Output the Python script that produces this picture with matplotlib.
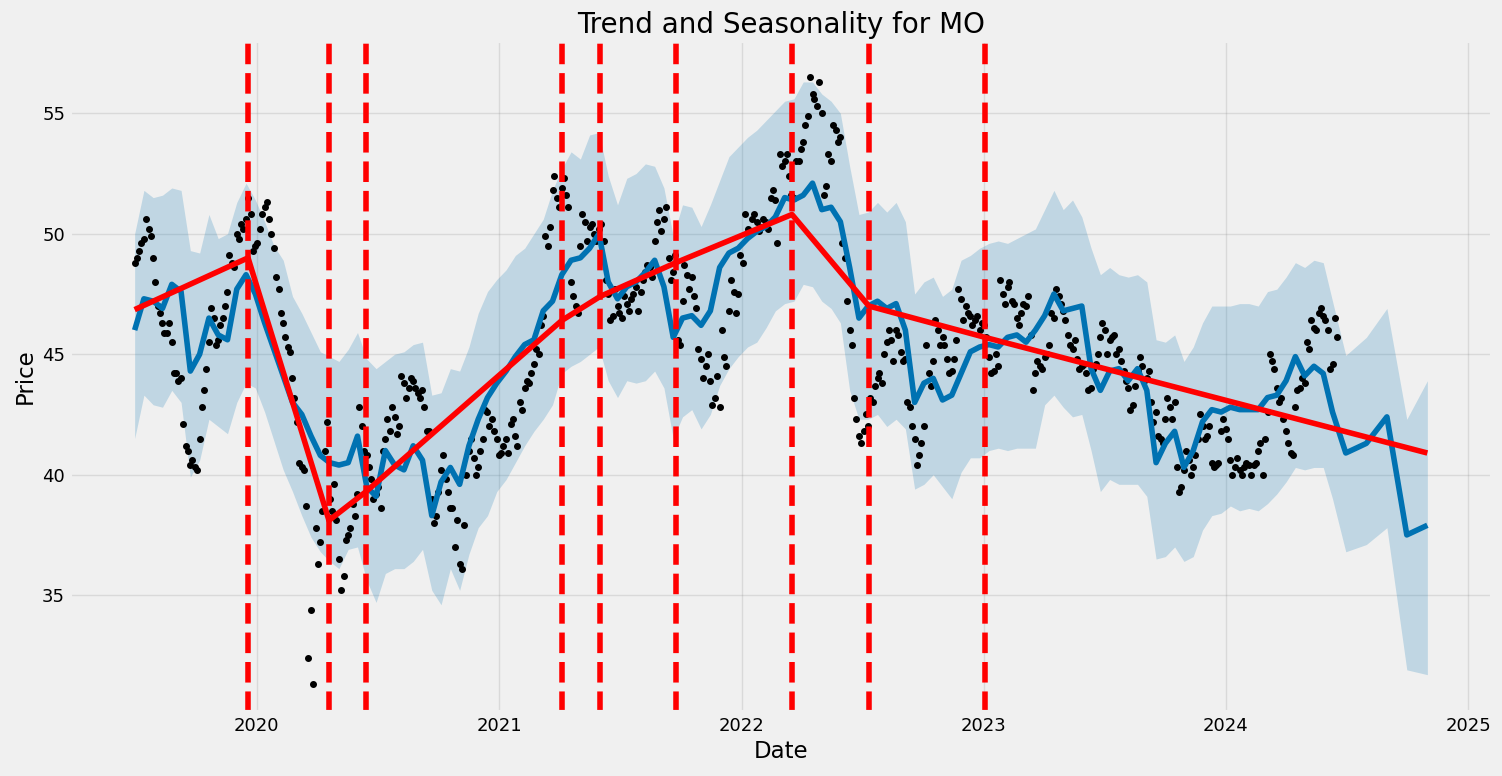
import matplotlib
matplotlib.use("Agg")
import matplotlib.pyplot as plt
import pandas as pd

# observed closing prices, one reading per week (Mondays)
price_start = "2019-07-01"
price = [
    48.8, 49.3, 49.8, 50.2, 49.0, 47.0, 46.3, 45.9, 45.5, 44.2, 44.0, 41.2, 40.4, 40.3, 41.5,
    43.5, 45.5, 46.5, 45.6, 46.5, 47.6, 48.8, 50.0, 50.4, 50.6, 50.8, 49.5, 50.2, 51.1, 50.6,
    49.4, 47.7, 46.3, 45.3, 44.0, 42.2, 40.3, 38.7, 34.4, 37.8, 37.2, 41.0, 39.0,
    39.6, 36.5, 35.8, 37.5, 38.8, 39.2, 42.0, 40.8, 39.8, 39.2, 38.6, 41.5, 41.8, 42.4, 42.0,
    43.8, 43.6, 43.9, 43.4, 43.5, 41.8, 39.0, 38.3, 40.2, 39.8, 38.6, 37.0, 36.3, 37.9, 41.0,
    40.7, 40.3, 41.5, 42.6, 42.3, 41.5, 40.9, 41.5, 42.1, 41.6, 43.0, 43.6, 43.8, 44.6, 45.0,
    46.6, 49.5, 51.8, 51.5, 51.9, 51.6,
    48.0, 47.0, 49.5, 50.5, 50.3, 50.0, 50.2, 49.7, 47.5, 46.6, 47.0, 46.5, 47.1, 47.3, 47.8,
    47.6, 48.4, 48.6, 49.7, 51.0, 50.6, 49.0, 48.4, 45.6, 47.2, 48.3, 48.2, 46.9, 44.8, 44.5,
    43.9, 43.2, 42.8, 44.9, 46.8, 47.6, 47.5, 48.8, 50.2, 50.6, 50.5, 50.3, 50.5, 51.5, 51.4,
    53.3, 53.0, 52.4, 51.5,
    53.0, 53.8, 54.9, 55.8, 55.3, 55.0, 52.0, 53.0, 54.3, 54.0, 49.0, 46.0, 43.2, 41.6, 41.8,
    42.0, 43.0, 44.0, 43.8, 45.5, 45.6, 46.0, 45.1, 44.8, 42.8, 41.5, 40.8, 42.0, 44.2, 44.7,
    46.0, 45.7, 44.8, 44.3, 45.6, 47.3, 47.0, 46.6, 46.4, 46.0, 46.2, 44.9, 44.3, 44.5, 47.5,
    47.8, 47.2, 46.5, 46.7,
    47.0, 45.8, 44.2, 44.5, 44.9, 45.4, 46.5, 47.4, 46.8, 45.8, 45.2, 44.8, 44.5, 44.2, 43.6,
    44.6, 45.7, 46.0, 45.6, 45.8, 45.2, 44.3, 43.6, 42.9, 44.3, 44.5, 44.0, 43.0, 42.6, 41.5,
    42.3, 42.8, 43.0, 39.3, 40.2, 40.6, 40.3, 41.5, 42.0, 41.6, 40.5, 40.4, 41.8, 41.9, 40.6,
    40.3, 40.2, 40.3, 40.4,
    40.4, 41.0, 40.0, 42.6, 44.7, 43.6, 43.2, 41.8, 40.9, 42.8, 43.6, 43.8, 45.2, 46.1, 46.7,
    46.6, 46.0, 44.6, 45.7,
]

# a second reading per week (Thursdays)
price_mid_start = "2019-07-04"
price_mid = [
    49.0, 49.6, 50.6, 49.9, 48.0, 46.7, 45.9, 46.3, 44.2, 43.9, 42.1, 41.0, 40.6, 40.2, 42.8,
    44.4, 46.9, 45.4, 46.2, 47.0, 49.1, 48.6, 49.8, 50.2, 51.5, 49.3, 49.6, 50.8, 51.3, 50.0,
    48.2, 46.7, 45.7, 45.1, 43.2, 40.5, 40.2, 32.4, 31.3, 36.3, 38.5, 42.2, 38.5,
    38.1, 35.2, 37.3, 37.8, 38.3, 42.8, 41.0, 40.3, 39.0, 39.5, 41.0, 42.3, 42.8, 41.7, 44.1,
    43.2, 44.0, 43.6, 43.2, 42.8, 41.8, 38.0, 39.3, 40.8, 39.3, 38.6, 38.1, 36.1, 40.0, 41.5,
    40.0, 41.0, 42.7, 42.0, 41.8, 40.8, 41.2, 40.9, 42.3, 41.2, 42.7, 43.9, 44.2, 45.2, 46.2,
    49.9, 50.3, 52.4, 51.1, 52.3, 51.1,
    47.4, 46.7, 50.8, 49.7, 50.4, 49.7, 50.4, 48.1, 46.4, 47.7, 46.7, 47.4, 46.8, 47.5, 46.8,
    48.1, 48.7, 48.2, 50.5, 50.1, 51.1, 48.1, 49.1, 45.4, 48.7, 47.7, 47.4, 45.2, 44.0, 45.0,
    42.9, 44.1, 46.0, 44.5, 48.1, 46.7, 49.1, 50.8, 50.1, 50.8, 50.1, 50.6, 50.2, 51.8, 49.6,
    52.8, 53.3, 51.6, 53.0,
    53.5, 54.5, 56.5, 55.6, 56.3, 51.6, 53.3, 54.5, 53.8, 49.6, 47.2, 45.4, 42.3, 41.3, 42.5,
    43.2, 43.7, 44.2, 45.0, 46.0, 44.7, 45.8, 44.7, 43.0, 42.0, 40.4, 41.3, 45.4, 43.7, 46.4,
    45.4, 45.4, 44.2, 44.8, 47.7, 46.4, 46.7, 46.2, 46.6, 46.3, 45.7, 44.2, 45.0, 48.1, 47.1,
    48.0, 47.1, 46.2, 47.1,
    47.4, 43.5, 44.7, 44.4, 45.0, 46.7, 47.7, 47.1, 46.4, 45.4, 45.6, 44.4, 44.6, 43.5, 44.4,
    45.0, 46.3, 45.0, 45.7, 45.0, 44.7, 43.9, 42.7, 43.7, 44.9, 43.9, 44.3, 42.2, 41.6, 41.3,
    43.2, 42.3, 40.3, 39.5, 41.0, 40.0, 40.8, 42.5, 41.5, 42.0, 40.3, 40.5, 42.3, 41.5, 40.0,
    40.7, 40.0, 40.5, 40.0,
    40.5, 41.3, 41.5, 45.0, 44.4, 43.0, 42.3, 41.3, 40.8, 43.5, 44.0, 45.5, 46.4, 46.0, 46.9,
    46.4, 44.4, 46.5,
]

# fitted values over the history, one reading every two weeks
fit_start = "2019-07-01"
yhat = [
    46.0, 47.3, 47.2, 46.9, 47.9, 47.6, 44.3, 45.0, 46.5, 45.8, 45.6, 47.7, 48.3, 47.5, 46.3,
    45.2, 44.1, 43.0, 42.5, 41.6, 40.8, 40.5, 40.4,
    40.5, 41.6, 39.5, 39.1, 41.0, 40.4, 40.2, 41.2, 40.6, 38.3, 39.7, 40.3, 39.6, 41.2, 42.3,
    43.2, 43.8, 44.3, 44.9, 45.4, 45.6, 46.8, 47.2, 48.3,
    48.9, 49.0, 49.4, 50.0, 48.0, 47.3, 47.8, 48.0, 48.4, 48.9, 47.8, 45.7, 46.5, 46.6, 46.2,
    46.8, 48.6, 49.2, 49.4, 49.8, 50.1, 50.3, 50.7, 51.5, 51.4,
    51.6, 52.1, 51.0, 51.1, 50.5, 48.6, 46.5, 47.0, 47.2, 46.9, 47.1, 46.0, 43.0, 43.8, 44.0,
    43.1, 43.3, 44.2, 45.1, 45.3, 45.4, 45.3, 45.7, 45.8,
    45.5, 46.0, 46.6, 47.5, 46.8, 46.9, 47.0, 44.4, 43.5, 44.3, 44.4, 43.9, 44.4, 43.5, 40.5,
    41.3, 41.8, 40.3, 41.0, 42.2, 42.7, 42.6, 42.8, 42.7, 42.7,
    42.7, 43.2, 43.3, 43.9, 44.9, 44.1, 44.5, 44.2, 42.6,
]
yhat_upper = [
    50.0, 51.8, 51.5, 51.6, 51.9, 51.8, 49.3, 49.2, 50.8, 49.8, 50.0, 51.3, 52.1, 51.4, 50.5,
    49.5, 48.9, 47.4, 46.7, 45.9, 45.1, 44.9, 44.7,
    45.2, 45.9, 44.8, 44.4, 44.7, 45.0, 45.1, 45.4, 45.5, 43.3, 43.4, 44.4, 44.3, 45.3, 46.7,
    47.6, 48.1, 48.5, 49.1, 49.4, 50.0, 50.6, 51.8, 52.7,
    53.4, 53.1, 54.1, 54.2, 52.4, 51.2, 52.3, 52.5, 52.9, 52.8, 51.9, 49.9, 51.2, 51.1, 50.3,
    51.2, 52.2, 53.2, 53.6, 54.0, 54.3, 54.7, 55.1, 55.5, 55.6,
    56.3, 56.3, 55.8, 55.5, 55.0, 52.8, 50.8, 50.9, 51.3, 50.9, 51.3, 50.5, 47.5, 48.0, 48.2,
    47.4, 47.7, 48.9, 49.1, 49.4, 49.6, 49.7, 49.6, 49.8,
    50.0, 50.2, 51.0, 51.8, 51.0, 51.4, 50.7, 49.4, 48.3, 48.6, 48.3, 48.2, 48.3, 48.0, 45.6,
    45.5, 45.8, 44.7, 45.3, 46.3, 47.0, 47.0, 47.0, 47.1, 47.1,
    47.0, 47.6, 47.7, 48.2, 48.8, 48.6, 48.9, 48.8, 47.2,
]
yhat_lower = [
    41.5, 43.3, 42.9, 42.8, 43.5, 43.0, 39.9, 40.6, 42.3, 42.0, 41.7, 43.0, 43.8, 43.6, 42.6,
    41.4, 40.2, 39.3, 38.3, 37.4, 36.8, 36.4, 36.1,
    36.9, 37.0, 35.6, 34.7, 35.9, 36.1, 36.1, 36.4, 36.9, 35.2, 34.6, 36.1, 35.2, 36.7, 37.8,
    38.3, 39.3, 39.8, 40.5, 41.2, 41.8, 42.3, 42.9, 44.2,
    44.5, 44.7, 45.0, 45.3, 43.9, 43.2, 43.9, 43.8, 43.9, 44.3, 43.6, 41.5, 42.4, 42.7, 41.9,
    42.5, 43.7, 44.4, 44.9, 45.3, 45.5, 46.1, 46.8, 47.1, 47.2,
    47.9, 47.8, 47.2, 46.9, 46.3, 43.5, 42.3, 42.3, 42.5, 42.0, 42.3, 41.9, 39.4, 39.6, 40.0,
    39.5, 39.0, 40.1, 40.7, 40.7, 41.0, 41.1, 41.0, 41.1,
    41.1, 41.1, 42.9, 43.3, 42.8, 42.4, 42.5, 41.0, 39.3, 39.8, 39.6, 39.6, 39.6, 39.1, 36.5,
    36.6, 37.0, 36.4, 36.6, 37.7, 38.3, 38.4, 38.7, 38.5, 38.6,
    38.5, 38.8, 39.2, 39.7, 40.3, 40.2, 40.3, 40.3, 39.0,
]

# monthly forecast beyond the data
future_dates = ["2024-06-30", "2024-07-31", "2024-08-31", "2024-09-30", "2024-10-31"]
future_yhat = [40.9, 41.3, 42.4, 37.5, 37.9]
future_upper = [44.95, 45.7, 46.9, 42.3, 43.9]
future_lower = [36.8, 37.1, 37.8, 31.9, 31.7]

# piecewise trend, its inner vertices are the changepoints
trend_dates = ["2019-07-01", "2019-12-19", "2020-04-19", "2020-06-14", "2021-04-05",
               "2021-06-02", "2021-09-24", "2022-03-18", "2022-07-12", "2023-01-03",
               "2024-10-31"]
trend = [46.85, 49.0, 38.1, 39.3, 46.4, 47.4, 48.8, 50.8, 47.0, 45.7, 40.9]

price_ds = pd.date_range(price_start, periods=len(price), freq="W-MON")
price_mid_ds = pd.date_range(price_mid_start, periods=len(price_mid), freq="W-THU")
hist = pd.DataFrame({"ds": price_ds.append(price_mid_ds), "y": price + price_mid})
hist = hist.sort_values("ds")

fit_ds = pd.date_range(fit_start, periods=len(yhat), freq="2W-MON")
fcst = pd.DataFrame({
    "ds": fit_ds.append(pd.DatetimeIndex(future_dates)),
    "yhat": yhat + future_yhat,
    "yhat_upper": yhat_upper + future_upper,
    "yhat_lower": yhat_lower + future_lower,
})
trend_ds = pd.to_datetime(trend_dates)

plt.style.use("fivethirtyeight")
fig = plt.figure(figsize=(15.02, 7.76), dpi=100)
ax = fig.add_axes([70 / 1502, 64 / 776, 1422 / 1502, 671 / 776])

ax.plot(hist["ds"], hist["y"], "k.", markersize=8, label="Observed data points")
ax.plot(fcst["ds"], fcst["yhat"], ls="-", c="#0072B2", label="Forecast")
ax.fill_between(fcst["ds"], fcst["yhat_lower"], fcst["yhat_upper"],
                color="#0072B2", alpha=0.2, lw=0)
ax.grid(True, which="major", c="gray", ls="-", lw=1, alpha=0.2)

ax.plot(trend_ds, trend, c="r")
for cp in trend_ds[1:-1]:
    ax.axvline(x=cp, c="r", ls="--")

ax.set_ylim(30.15, 58.0)
ax.set_title("Trend and Seasonality for MO", fontsize=20)
ax.set_xlabel("Date", fontsize=16.5)
ax.set_ylabel("Price", fontsize=16.5)
ax.tick_params(labelsize=13)

fig.savefig("out.png", dpi=100)
